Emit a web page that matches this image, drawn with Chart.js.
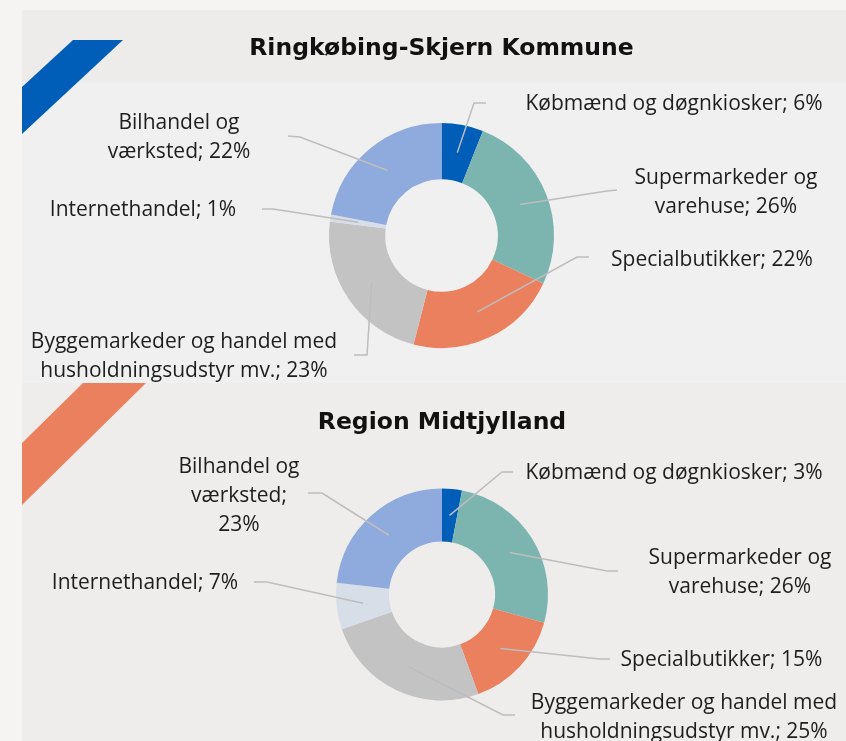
<!DOCTYPE html>
<html lang="da">
<head>
<meta charset="UTF-8">
<title>Detailhandel - fordeling</title>
<script src="https://cdn.jsdelivr.net/npm/chart.js"></script>
<style>
  body { margin: 0; background: #f5f4f3; width: 846px; height: 741px; overflow: hidden; position: relative; }
  .panel { position: absolute; left: 22px; width: 824px; overflow: hidden; }
  #p1 { top: 10px; height: 373px; background: linear-gradient(#edeceb 0 72px, #f0f0f0 72px); }
  #p2 { top: 383px; height: 358px; background: #eeedec; }
  .stripe { position: absolute; left: 0; top: 0; width: 130px; height: 130px; }
  #s1 { background: #005eb8; clip-path: polygon(51px 30px, 101px 30px, 0 124px, 0 77px); }
  #s2 { background: #eb805f; clip-path: polygon(61px 0, 124px 0, 0 122px, 0 60px); }
  canvas { position: absolute; left: 0; top: 0; }
</style>
</head>
<body>
<div class="panel" id="p1"><div class="stripe" id="s1"></div><canvas id="chart1" width="824" height="373"></canvas></div>
<div class="panel" id="p2"><div class="stripe" id="s2"></div><canvas id="chart2" width="824" height="358"></canvas></div>
<script>
const categories = [
    'Købmænd og døgnkiosker',
    'Supermarkeder og varehuse',
    'Specialbutikker',
    'Byggemarkeder og handel med husholdningsudstyr mv.',
    'Internethandel',
    'Bilhandel og værksted'
];
const ringkobingValues = [6, 26, 22, 23, 1, 22];
const midtjyllandValues = [3, 26, 15, 25, 7, 23];
const sliceColors = ['#005eb8', '#7cb5af', '#eb805f', '#c3c3c3', '#d7dee8', '#8faadc'];

// label placement (page coords): elbow, line end, text centre, wrap width
const ringkobingLabels = [
    { ex: 474, ey: 103, lx: 486, ly: 103, tx: 674, ty: 104, wrap: 400 },
    { ex: 607, ey: 191, lx: 617, ly: 190, tx: 726, ty: 192.5, wrap: 215 },
    { ex: 577, ey: 257, lx: 589, ly: 257, tx: 712, ty: 260, wrap: 400 },
    { ex: 367, ey: 355, lx: 354, ly: 355, tx: 184, ty: 357, wrap: 350 },
    { ex: 273, ey: 209, lx: 262, ly: 209, tx: 143, ty: 210, wrap: 400 },
    { ex: 300, ey: 137, lx: 288, ly: 136, tx: 179, ty: 137.5, wrap: 170 }
];
const midtjyllandLabels = [
    { ex: 502, ey: 472, lx: 513, ly: 472, tx: 674, ty: 473, wrap: 400 },
    { ex: 607, ey: 571, lx: 618, ly: 571, tx: 740, ty: 572.5, wrap: 215 },
    { ex: 600, ey: 659, lx: 610, ly: 659, tx: 721.5, ty: 660, wrap: 400 },
    { ex: 503, ey: 715, lx: 515, ly: 715, tx: 684, ty: 717.5, wrap: 350 },
    { ex: 267, ey: 582, lx: 254, ly: 582, tx: 145, ty: 583, wrap: 400 },
    { ex: 322, ey: 493, lx: 308, ly: 493, tx: 239, ty: 496, wrap: 132 }
];

function wrapText(ctx, text, maxWidth) {
    const words = text.split(' ');
    const lines = [];
    let line = '';
    words.forEach(w => {
        const test = line ? line + ' ' + w : w;
        if (line && ctx.measureText(test).width > maxWidth) {
            lines.push(line);
            line = w;
        } else {
            line = test;
        }
    });
    lines.push(line);
    return lines;
}

const leaderLabels = {
    id: 'leaderLabels',
    afterDatasetsDraw(chart, args, opts) {
        const ctx = chart.ctx;
        const meta = chart.getDatasetMeta(0);
        const values = chart.data.datasets[0].data;
        const ox = opts.offsetX, oy = opts.offsetY;
        ctx.save();
        ctx.font = opts.font;
        ctx.textAlign = 'center';
        ctx.textBaseline = 'middle';
        meta.data.forEach((arc, i) => {
            const p = opts.items[i];
            const start = arc.tooltipPosition();
            ctx.strokeStyle = '#bdbdbd';
            ctx.lineWidth = 1.5;
            ctx.beginPath();
            ctx.moveTo(start.x, start.y);
            ctx.lineTo(p.ex - ox, p.ey - oy);
            ctx.lineTo(p.lx - ox, p.ly - oy);
            ctx.stroke();
            ctx.fillStyle = '#1e1e1e';
            const lines = wrapText(ctx, chart.data.labels[i] + '; ' + values[i] + '%', p.wrap);
            lines.forEach((t, k) => {
                ctx.fillText(t, p.tx - ox, p.ty - oy + (k - (lines.length - 1) / 2) * opts.lineHeight);
            });
        });
        ctx.restore();
    }
};

function createChart(id, title, values, labels, offsetX, offsetY, padding, titlePad) {
    const ctx = document.getElementById(id).getContext('2d');
    return new Chart(ctx, {
        type: 'doughnut',
        data: {
            labels: categories,
            datasets: [{
                data: values,
                backgroundColor: sliceColors,
                borderWidth: 0
            }]
        },
        options: {
            responsive: false,
            animation: false,
            events: [],
            cutout: '50%',
            layout: { padding: padding },
            plugins: {
                legend: { display: false },
                tooltip: { enabled: false },
                title: {
                    display: true,
                    text: title,
                    color: '#111111',
                    font: { family: '"DejaVu Sans"', weight: 'bold', size: 23.5, lineHeight: 1.2 },
                    padding: titlePad
                },
                leaderLabels: {
                    items: labels,
                    offsetX: offsetX,
                    offsetY: offsetY,
                    font: '21px "Open Sans"',
                    lineHeight: 29
                }
            }
        },
        plugins: [leaderLabels]
    });
}

Promise.all([
    document.fonts.load('bold 24px "DejaVu Sans"'),
    document.fonts.load('21px "Open Sans"')
]).catch(() => {}).then(() => {
    createChart('chart1', 'Ringkøbing-Skjern Kommune', ringkobingValues, ringkobingLabels, 22, 10,
        { left: 15, right: 0, top: 0, bottom: 35 }, { top: 24.4, bottom: 60.4 });
    createChart('chart2', 'Region Midtjylland', midtjyllandValues, midtjyllandLabels, 22, 383,
        { left: 16, right: 0, top: 0, bottom: 40.5 }, { top: 25.4, bottom: 51.9 });
});
</script>
</body>
</html>
